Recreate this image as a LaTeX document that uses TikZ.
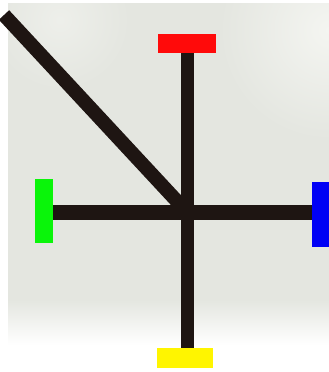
\documentclass[tikz,border=0pt]{standalone}
\usepackage{tikz}
\usetikzlibrary{calc,positioning}
\usepackage{xcolor}
\definecolor{barred}{HTML}{FF0A0A}
\definecolor{bargreen}{HTML}{0AF50A}
\definecolor{barblue}{HTML}{0000F5}
\definecolor{baryellow}{HTML}{FFF500}
\definecolor{rod}{HTML}{1E1512}
\definecolor{photobg}{HTML}{E4E6E0}
\definecolor{photolite}{HTML}{F4F5F1}

\begin{document}
\begin{tikzpicture}[x=1pt,y=-1pt,
  hbar/.style={rectangle,inner sep=0pt,minimum width=58pt,minimum height=19pt},
  vbar/.style={rectangle,inner sep=0pt,minimum width=18pt,minimum height=65pt},
  rodline/.style={rod,line width=14pt}]
\useasboundingbox (0,0) rectangle (329,372);
\begin{scope}
\clip (0,0) rectangle (329,372);
% faded photo behind the rods
\begin{scope}
\clip (8,3) rectangle (329,345);
\fill[photobg] (8,3) rectangle (329,300);
\shade[inner color=photolite,outer color=photobg] (329,30) circle (110);
\shade[inner color=photolite!60!photobg,outer color=photobg] (60,20) circle (70);
\shade[top color=photobg,bottom color=white] (8,300) rectangle (329,345);
\end{scope}
% bars
\node[hbar,fill=barred] (red) at (187,43.5){};
\node[hbar,fill=baryellow,minimum width=56pt,minimum height=20pt] (yellow) at (185,358){};
\node[vbar,fill=bargreen,minimum height=64pt] (green) at (44,211){};
\node[vbar,fill=barblue] (blue) at (321,214){};
\coordinate (hub) at (187,212);
\coordinate (corner) at (4,15);
% rods
\draw[rodline,line width=13pt] (red.south) -- (hub |- yellow.north);
\draw[rodline,line width=15pt] (green.east |- hub) -- (blue.west |- hub);
\draw[rodline] (corner) -- (hub);
\end{scope}
\end{tikzpicture}
\end{document}
